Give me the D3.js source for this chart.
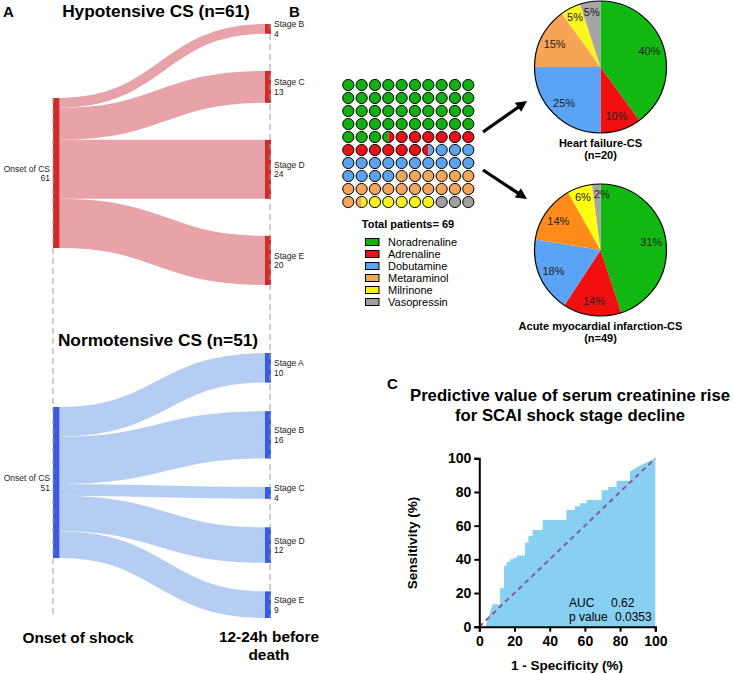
<!DOCTYPE html>
<html><head><meta charset="utf-8">
<script src="https://cdn.jsdelivr.net/npm/d3@7"></script>
<style>body{margin:0;background:#fff;} svg{display:block;font-family:"Liberation Sans",Arial,sans-serif;}</style>
</head><body><svg id="c" width="734" height="674"></svg>
<script>
// ---------- DATA ----------
const hypoStages = ["Stage B","Stage C","Stage D","Stage E"];
const hypoCounts = [4,13,24,20];
const hypoTotal = 61;
const normoStages = ["Stage A","Stage B","Stage C","Stage D","Stage E"];
const normoCounts = [10,16,4,12,9];
const normoTotal = 51;

const drugs = ["Noradrenaline","Adrenaline","Dobutamine","Metaraminol","Milrinone","Vasopressin"];
const wafflePct = [43.5,13,17.5,17.5,5.5,3];
const totalPatients = 69;

const hfCounts = [8,2,5,3,1,1];
const hfLabels = ["40%","10%","25%","15%","5%","5%"];
const amiCounts = [22,7,9,7,3,1];
const amiLabels = ["31%","14%","18%","14%","6%","2%"];

const rocFpr = [0,3.5,7.6,11.8,11.8,14,14,15.5,15.5,17.4,17.4,19.5,19.5,21.5,21.5,26,26,27.9,27.9,30.3,30.3,36,36,49.5,49.5,54.4,54.4,57.2,57.2,61,61,69.5,69.5,73.3,73.3,78,78,85.6,85.6,87,90,95,100];
const rocTpr = [0,0,13.3,13.3,22.8,22.8,36.2,36.2,38.5,38.5,40,40,41,41,42.3,42.3,50,50,54,54,57.4,57.4,63.4,63.4,69.3,69.3,71.5,71.5,73.3,73.3,75.2,75.2,81,81,83,83,86.7,86.7,92,93,95,97.5,100];
const rocTicks = [0,20,40,60,80,100];
const aucValue = "0.62";
const pValue = "0.0353";

// ---------- SETUP ----------
const svg = d3.select("#c");
const FONT = '"Liberation Sans",Arial,sans-serif';

function txt(x,y,s,size,opts={}){
  const t = svg.append("text").attr("x",x).attr("y",y).text(s)
    .attr("font-size",size).attr("fill",opts.fill||"#000")
    .attr("font-weight",opts.bold?"bold":"normal")
    .attr("text-anchor",opts.anchor||"start");
  if(opts.rotate) t.attr("transform",`rotate(${opts.rotate},${x},${y})`);
  return t;
}

// ---------- PANEL A : SANKEY ----------
function sankey(cfg){
  const g = svg.append("g");
  const h = d3.scaleLinear().domain([0,cfg.total]).range([0,cfg.px]);
  const xL0=53, xL1=59.5, xR0=265, xR1=271;
  const right=[]; let y=cfg.rightTop;
  cfg.counts.forEach(c=>{right.push({y0:y,y1:y+h(c)}); y+=h(c)+cfg.gap;});
  const left=[]; let yl=cfg.leftTop;
  cfg.counts.forEach(c=>{left.push({y0:yl,y1:yl+h(c)}); yl+=h(c);});
  const link = d3.linkHorizontal();
  cfg.counts.forEach((c,i)=>{
    g.append("path")
      .attr("d",link({source:[xL1,(left[i].y0+left[i].y1)/2],target:[xR0,(right[i].y0+right[i].y1)/2]}))
      .attr("fill","none").attr("stroke",cfg.linkColor).attr("stroke-width",h(c));
  });
  g.append("rect").attr("x",xL0).attr("y",cfg.leftTop).attr("width",xL1-xL0)
    .attr("height",h(cfg.total)).attr("fill",cfg.nodeColor);
  right.forEach((r,i)=>{
    g.append("rect").attr("x",xR0).attr("y",r.y0).attr("width",xR1-xR0)
      .attr("height",r.y1-r.y0).attr("fill",cfg.nodeColor);
    const cy=(r.y0+r.y1)/2;
    txt(274,cy-1.5,cfg.stages[i],8.5,{fill:"#222"});
    txt(274,cy+8,String(cfg.counts[i]),8.5,{fill:"#222"});
  });
  const lc=(cfg.leftTop+cfg.leftTop+h(cfg.total))/2;
  txt(50,lc-1.5,"Onset of CS",8.5,{anchor:"end",fill:"#222"});
  txt(50,lc+8,String(cfg.total),8.5,{anchor:"end",fill:"#222"});
}
sankey({counts:hypoCounts,stages:hypoStages,total:hypoTotal,px:150,leftTop:98,rightTop:24,gap:37,
  nodeColor:"#d42a2c",linkColor:"#e8a3a9"});
sankey({counts:normoCounts,stages:normoStages,total:normoTotal,px:151,leftTop:407,rightTop:353,gap:28.5,
  nodeColor:"#3a5de0",linkColor:"#b5cdf2"});
// dashed guides
svg.append("line").attr("x1",53).attr("x2",53).attr("y1",98).attr("y2",618)
  .attr("stroke","#a0a0a0").attr("stroke-dasharray","6,4");
svg.append("line").attr("x1",270).attr("x2",270).attr("y1",24).attr("y2",618)
  .attr("stroke","#a0a0a0").attr("stroke-dasharray","6,4");

txt(3,17,"A",15,{bold:true});
txt(156,17,"Hypotensive CS (n=61)",17.3,{bold:true,anchor:"middle"});
txt(158,346,"Normotensive CS (n=51)",17.3,{bold:true,anchor:"middle"});
txt(78,643,"Onset of shock",15.4,{bold:true,anchor:"middle"});
txt(269,642,"12-24h before",15.4,{bold:true,anchor:"middle"});
txt(269,660,"death",15.4,{bold:true,anchor:"middle"});

// ---------- PANEL B ----------
txt(289,17,"B",15,{bold:true});
const waffleColors = ["#13b013","#e8121a","#5ca3ee","#f3a55b","#f7f21c","#a0a0a0"];
const cum=[0]; wafflePct.forEach(v=>cum.push(cum[cum.length-1]+v));
const catAt = v => { for(let k=0;k<wafflePct.length;k++){ if(v>=cum[k] && v<cum[k+1]) return k;} return wafflePct.length-1; };
const wx = d3.scaleLinear().domain([0,9]).range([348.3,468.3]);
const wy = d3.scaleLinear().domain([0,9]).range([85,202]);
const halfArc = d3.arc().innerRadius(0).outerRadius(5.6);
const wg = svg.append("g");
d3.range(100).forEach(i=>{
  const c=i%10, r=Math.floor(i/10);
  const cx=wx(c), cy=wy(r);
  const a=catAt(i+0.25), b=catAt(i+0.75);
  const cell = wg.append("g").attr("transform",`translate(${cx},${cy})`);
  if(a===b){
    cell.append("circle").attr("r",5.6).attr("fill",waffleColors[a]);
  } else {
    cell.append("path").attr("d",halfArc({startAngle:Math.PI,endAngle:2*Math.PI})).attr("fill",waffleColors[a]);
    cell.append("path").attr("d",halfArc({startAngle:0,endAngle:Math.PI})).attr("fill",waffleColors[b]);
  }
  cell.append("circle").attr("r",5.6).attr("fill","none").attr("stroke","#000").attr("stroke-width",1);
});
txt(408,228,`Total patients= ${totalPatients}`,11,{bold:true,anchor:"middle"});
const ly = d3.scaleLinear().domain([0,5]).range([242,302]);
drugs.forEach((d,i)=>{
  svg.append("rect").attr("x",365.5).attr("y",ly(i)-3.5).attr("width",13.5).attr("height",7)
    .attr("fill",waffleColors[i]).attr("stroke","#000").attr("stroke-width",1);
  txt(388,ly(i)+4,d,11);
});

// arrows
function arrow(x1,y1,x2,y2){
  const ang=Math.atan2(y2-y1,x2-x1), L=11, W=5.5;
  const bx=x2-L*Math.cos(ang), by=y2-L*Math.sin(ang);
  svg.append("line").attr("x1",x1).attr("y1",y1).attr("x2",bx+2*Math.cos(ang)).attr("y2",by+2*Math.sin(ang))
    .attr("stroke","#000").attr("stroke-width",3.2);
  const px=-Math.sin(ang), py=Math.cos(ang);
  svg.append("path").attr("d",`M${x2},${y2}L${bx+W*px},${by+W*py}L${bx-W*px},${by-W*py}Z`).attr("fill","#000");
}
arrow(483,132,527,101);
arrow(483,170,527,199);

// pies
function pie(cx,cy,R,counts,labels,colors,cap1,cap2){
  const g=svg.append("g").attr("transform",`translate(${cx},${cy})`);
  const total=d3.sum(counts);
  const arcs=d3.pie().sort(null)(counts);
  const arc=d3.arc().innerRadius(0).outerRadius(R);
  const la=d3.arc().innerRadius(R*0.78).outerRadius(R*0.78);
  const laSmall=d3.arc().innerRadius(R*0.85).outerRadius(R*0.85);
  g.selectAll("path.s").data(arcs).join("path").attr("class","s").attr("d",arc).attr("fill",(d,i)=>colors[i]);
  g.append("circle").attr("r",R).attr("fill","none").attr("stroke","#000").attr("stroke-width",1.2);
  arcs.forEach((d,i)=>{
    const frac=d.value/total;
    let [x,y]=(frac<0.07?laSmall:la).centroid(d);
    let anchor="middle";
    if(frac<0.03){ anchor="start"; x=x-3; }
    g.append("text").attr("x",x).attr("y",y+4).attr("text-anchor",anchor).attr("font-size",11)
      .attr("fill","#222").text(labels[i]);
  });
  txt(cx,cy+R+14,cap1,11,{bold:true,anchor:"middle"});
  txt(cx,cy+R+26,cap2,11,{bold:true,anchor:"middle"});
}
pie(600.5,67,66,hfCounts,hfLabels,["#12b812","#f01010","#5aa3f5","#f8a456","#fbf51e","#a5a5a5"],"Heart failure-CS","(n=20)");
pie(600.5,250,66,amiCounts,amiLabels,["#12b812","#f01010","#5aa3f5","#ff8c1a","#ffff10","#a5a5a5"],"Acute myocardial infarction-CS","(n=49)");

// ---------- PANEL C : ROC ----------
txt(387,389,"C",15,{bold:true});
txt(570,401,"Predictive value of serum creatinine rise",16.7,{bold:true,anchor:"middle"});
txt(570,421,"for SCAI shock stage decline",16.7,{bold:true,anchor:"middle"});
const xC=d3.scaleLinear().domain([0,100]).range([479.3,655.3]);
const yC=d3.scaleLinear().domain([0,100]).range([626.7,458.3]);
const rocData=rocFpr.map((f,i)=>[f,rocTpr[i]]);
svg.append("path").datum(rocData)
  .attr("d",d3.area().x(d=>xC(d[0])).y0(yC(0)).y1(d=>yC(d[1])))
  .attr("fill","#88d0f1");
svg.append("line").attr("x1",xC(0)).attr("y1",yC(0)).attr("x2",xC(100)).attr("y2",yC(100))
  .attr("stroke","#8e5a96").attr("stroke-width",2).attr("stroke-dasharray","5,4");
const axX=svg.append("g").attr("transform",`translate(0,${yC(0)})`)
  .call(d3.axisBottom(xC).tickValues(rocTicks).tickSizeOuter(0).tickSize(5).tickPadding(4));
const axY=svg.append("g").attr("transform",`translate(${xC(0)},0)`)
  .call(d3.axisLeft(yC).tickValues(rocTicks).tickSizeOuter(0).tickSize(5).tickPadding(3));
[axX,axY].forEach(a=>{
  a.selectAll("path,line").attr("stroke","#000").attr("stroke-width",2);
  a.selectAll("text").attr("font-size",14).attr("font-weight","bold").attr("font-family",FONT).attr("fill","#000");
});
txt(567,670,"1 - Specificity (%)",13.5,{bold:true,anchor:"middle"});
txt(417,543,"Sensitivity (%)",13.5,{bold:true,anchor:"middle",rotate:-90});
txt(569,607,"AUC",12);
txt(611,607,aucValue,12);
txt(569,621,"p value",12);
txt(615,621,pValue,12);
</script></body></html>
